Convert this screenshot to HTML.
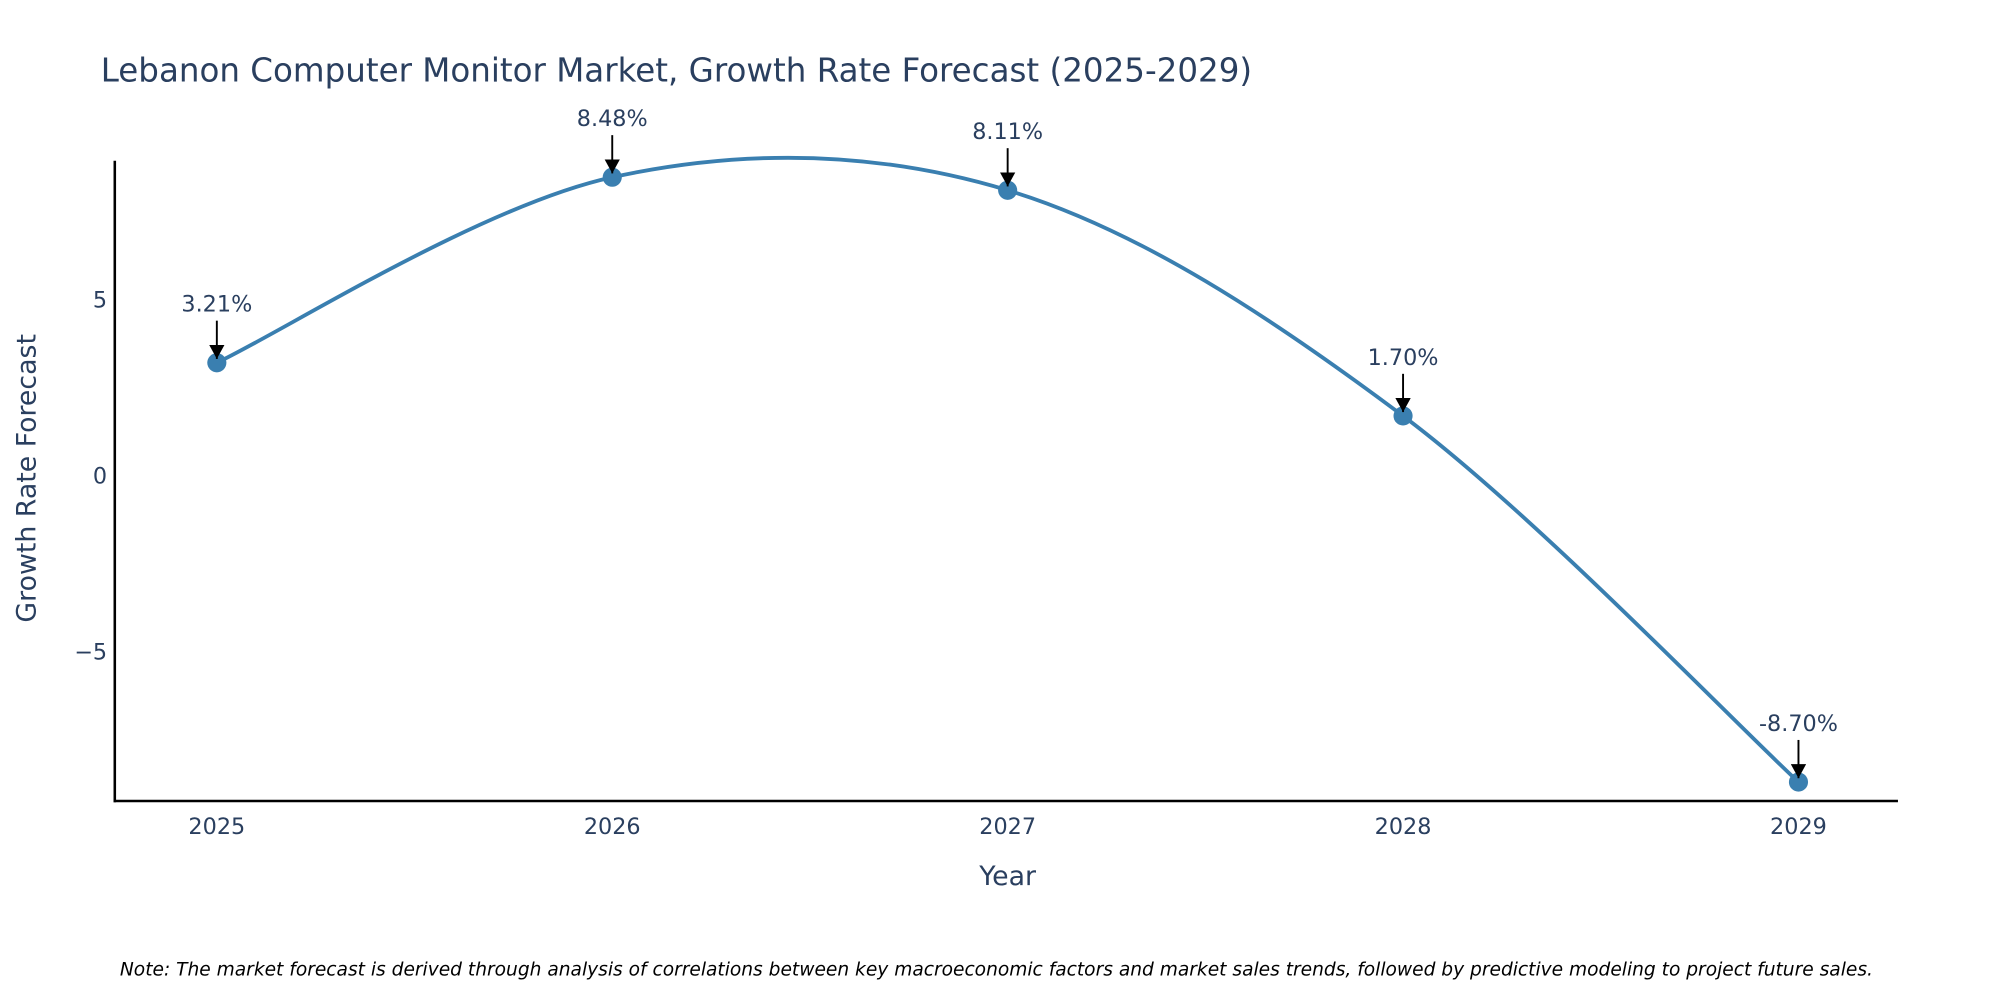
<!DOCTYPE html>
<html><head><meta charset="utf-8"><style>
html,body{margin:0;padding:0;background:#fff;}
svg{display:block;font-family:"DejaVu Sans","Liberation Sans",sans-serif;}
</style></head><body>
<svg id="chart" width="2000" height="1000" viewBox="0 0 1568 784" xmlns="http://www.w3.org/2000/svg">
<text x="79" y="64" font-size="25.5" fill="#2a3f5f">Lebanon Computer Monitor Market, Growth Rate Forecast (2025-2029)</text>
<g id="plot"></g>
<line x1="90" y1="126" x2="90" y2="629" stroke="#000" stroke-width="2"/>
<line x1="89" y1="628" x2="1488" y2="628" stroke="#000" stroke-width="2"/>
<text x="790" y="694" font-size="21" fill="#2a3f5f" text-anchor="middle">Year</text>
<text transform="translate(28,375) rotate(-90)" font-size="21" fill="#2a3f5f" text-anchor="middle">Growth Rate Forecast</text>
<text x="94" y="765" font-size="14.6" font-style="italic" fill="#000">Note: The market forecast is derived through analysis of correlations between key macroeconomic factors and market sales trends, followed by predictive modeling to project future sales.</text>
</svg>
<script>
const years = [2025, 2026, 2027, 2028, 2029];
const growth = [3.21, 8.48, 8.11, 1.70, -8.70];
const labels = ["3.21%", "8.48%", "8.11%", "1.70%", "-8.70%"];
const yTicks = [-5, 0, 5];
const yTickLabels = ["\u22125", "0", "5"];

const X0 = 170, XSTEP = 310, Y0 = 373, YUNIT = 27.6;
function xs(v){ return X0 + (v - years[0]) * XSTEP; }
function ys(v){ return Y0 - v * YUNIT; }
const NS = "http://www.w3.org/2000/svg";
const g = document.getElementById('plot');
function mk(tag, attrs){ const e = document.createElementNS(NS, tag); for (const k in attrs) e.setAttribute(k, attrs[k]); g.appendChild(e); return e; }

yTicks.forEach((t, i) => {
  const e = mk('text', {x: 84, y: ys(t) + 6, 'font-size': 17.5, fill: '#2a3f5f', 'text-anchor': 'end'});
  
  
  e.textContent = yTickLabels[i];
});
years.forEach(yr => {
  const e = mk('text', {x: xs(yr), y: 654, 'font-size': 17.5, fill: '#2a3f5f', 'text-anchor': 'middle'});
  
  
  e.textContent = String(yr);
});

const pts = years.map((yr, i) => [xs(yr), ys(growth[i])]);
let d = `M${pts[0][0]},${pts[0][1]}`;
for (let i = 0; i < pts.length - 1; i++) {
  const p0 = pts[Math.max(0, i - 1)], p1 = pts[i], p2 = pts[i + 1], p3 = pts[Math.min(pts.length - 1, i + 2)];
  const c1 = [p1[0] + (p2[0] - p0[0]) / 6, p1[1] + (p2[1] - p0[1]) / 6];
  const c2 = [p2[0] - (p3[0] - p1[0]) / 6, p2[1] - (p3[1] - p1[1]) / 6];
  d += ` C${c1[0]},${c1[1]} ${c2[0]},${c2[1]} ${p2[0]},${p2[1]}`;
}
const line = mk('path', {d: d, fill: 'none', stroke: '#3a7fb0', 'stroke-width': 3});



const defs = mk('defs', {});
const marker = document.createElementNS(NS, 'marker');
marker.setAttribute('id', 'ah'); marker.setAttribute('markerWidth', '12'); marker.setAttribute('markerHeight', '12');
marker.setAttribute('refX', '6'); marker.setAttribute('refY', '11'); marker.setAttribute('orient', '0');
marker.setAttribute('markerUnits', 'userSpaceOnUse');
const mp = document.createElementNS(NS, 'path'); mp.setAttribute('d', 'M0,0 L12,0 L6,11 Z'); mp.setAttribute('fill', '#000');
marker.appendChild(mp); defs.appendChild(marker);

pts.forEach((p, i) => {
  const c = mk('circle', {cx: p[0], cy: p[1], r: 7.5, fill: '#3a7fb0'});
  
  
  const a = mk('line', {x1: p[0], y1: p[1] - 33, x2: p[0], y2: p[1] - 3, stroke: '#000', 'stroke-width': 1.5, 'marker-end': 'url(#ah)'});
  
  
  const t = mk('text', {x: p[0], y: p[1] - 40, 'font-size': 17.5, fill: '#2a3f5f', 'text-anchor': 'middle'});
  
  
  t.textContent = labels[i];
});
</script>
</body></html>
